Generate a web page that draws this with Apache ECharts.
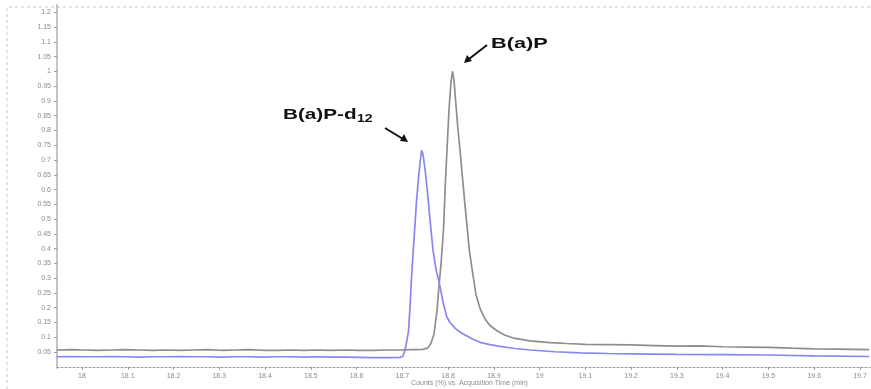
<!DOCTYPE html>
<html>
<head>
<meta charset="utf-8">
<script src="https://cdn.jsdelivr.net/npm/echarts@6/dist/echarts.min.js"></script>
<style>html,body{margin:0;padding:0;background:#fff}#c{width:871px;height:389px}</style>
</head>
<body>
<div id="c"></div>
<script>
// Tick labels
const xTicks = [18, 18.1, 18.2, 18.3, 18.4, 18.5, 18.6, 18.7, 18.8, 18.9, 19, 19.1, 19.2, 19.3, 19.4, 19.5, 19.6, 19.7];
const yTicks = [0.05, 0.1, 0.15, 0.2, 0.25, 0.3, 0.35, 0.4, 0.45, 0.5, 0.55, 0.6, 0.65, 0.7, 0.75, 0.8, 0.85, 0.9, 0.95, 1, 1.05, 1.1, 1.15, 1.2];

// B(a)P trace (grey)
const grayTime = [17.945, 17.975, 18.005, 18.035, 18.065, 18.095, 18.125, 18.155, 18.185, 18.215, 18.245, 18.275, 18.305, 18.335, 18.365, 18.395, 18.425, 18.455, 18.485, 18.515, 18.545, 18.575, 18.605, 18.635, 18.665, 18.695,
  18.72, 18.745, 18.756, 18.7626, 18.7691, 18.7757, 18.7807, 18.7844, 18.7899, 18.7943, 18.7976, 18.8019, 18.8063, 18.8096,
  18.8128, 18.8172, 18.8216, 18.826, 18.8303, 18.8369, 18.8463, 18.8544, 18.8609, 18.8697,
  18.8806, 18.8915, 18.9068, 18.9243, 18.9461, 18.9789, 19.0226,
  19.06, 19.1, 19.15, 19.2, 19.25, 19.3, 19.35, 19.4, 19.45, 19.5, 19.55, 19.6, 19.65, 19.72];
const grayCounts = [0.057, 0.058, 0.057, 0.056, 0.057, 0.058, 0.057, 0.056, 0.057, 0.056, 0.057, 0.058, 0.056, 0.057, 0.058, 0.056, 0.056, 0.057, 0.056, 0.057, 0.056, 0.057, 0.056, 0.056, 0.057, 0.057,
  0.058, 0.059, 0.064, 0.08, 0.11, 0.19, 0.284, 0.345, 0.463, 0.632, 0.734, 0.869, 0.964, 1.0,
  0.971, 0.886, 0.802, 0.734, 0.659, 0.548, 0.395, 0.31, 0.245, 0.198,
  0.162, 0.14, 0.122, 0.107, 0.096, 0.088, 0.082,
  0.079, 0.076, 0.075, 0.074, 0.072, 0.070, 0.071, 0.068, 0.067, 0.066, 0.063, 0.061, 0.060, 0.058];

// B(a)P-d12 trace (blue)
const blueTime = [17.945, 17.975, 18.005, 18.035, 18.065, 18.095, 18.125, 18.155, 18.185, 18.215, 18.245, 18.275, 18.305, 18.335, 18.365, 18.395, 18.425, 18.455, 18.485, 18.515, 18.545, 18.575, 18.605, 18.635, 18.665, 18.695,
  18.7014, 18.7058, 18.7101, 18.7134, 18.7167, 18.72, 18.7239, 18.7276, 18.7309, 18.7348,
  18.7386, 18.7423, 18.7451, 18.7495, 18.755, 18.7604, 18.767, 18.7735, 18.7807, 18.7888,
  18.7969, 18.8041, 18.815, 18.826, 18.8369, 18.8522, 18.8697, 18.8915, 18.9134, 18.9461,
  18.9789, 19.0335, 19.0882, 19.15, 19.2, 19.3, 19.4, 19.5, 19.6, 19.72];
const blueCounts = [0.034, 0.035, 0.034, 0.034, 0.035, 0.034, 0.033, 0.034, 0.034, 0.035, 0.034, 0.034, 0.033, 0.034, 0.034, 0.033, 0.034, 0.034, 0.033, 0.034, 0.033, 0.033, 0.032, 0.031, 0.031, 0.032,
  0.036, 0.057, 0.09, 0.12, 0.2, 0.3, 0.395, 0.48, 0.56, 0.63,
  0.69, 0.733, 0.72, 0.67, 0.59, 0.5, 0.395, 0.33, 0.284, 0.22,
  0.17, 0.15, 0.131, 0.118, 0.108, 0.095, 0.083, 0.075, 0.069, 0.062,
  0.057, 0.051, 0.047, 0.045, 0.044, 0.042, 0.041, 0.040, 0.037, 0.035];

const fmt = v => String(Math.round(v * 100) / 100);
const labelStyle = { color: '#8a8a8a', fontSize: 7, fontFamily: 'Liberation Sans, Arial, sans-serif' };

const chart = echarts.init(document.getElementById('c'), null, { renderer: 'canvas' });
chart.setOption({
  animation: false,
  backgroundColor: '#ffffff',
  grid: { left: 57, right: 1, top: 5, bottom: 21, containLabel: false, outerBoundsMode: 'none' },
  xAxis: {
    type: 'value', min: 17.9454, max: 19.7219,
    name: 'Counts (%) vs. Acquisition Time (min)',
    nameLocation: 'middle', nameGap: 12, nameMoveOverlap: false,
    nameTextStyle: { color: '#8a8a8a', fontSize: 7, fontFamily: 'Liberation Sans, Arial, sans-serif', padding: [0, 0, 0, 12] },
    axisLine: { show: true, lineStyle: { color: '#9a9a9a', width: 1, type: [2, 2] } },
    axisTick: { show: true, length: 3, customValues: xTicks, lineStyle: { color: '#9a9a9a' } },
    axisLabel: Object.assign({ customValues: xTicks, formatter: fmt, margin: 5 }, labelStyle),
    splitLine: { show: false }
  },
  yAxis: {
    type: 'value', min: -0.004, max: 1.2248,
    axisLine: { show: true, lineStyle: { color: '#c4c4c4', width: 2 } },
    axisTick: { show: true, length: 3, customValues: yTicks, lineStyle: { color: '#9a9a9a' } },
    axisLabel: Object.assign({ customValues: yTicks, formatter: fmt, margin: 6 }, labelStyle),
    splitLine: { show: false }
  },
  series: [
    {
      type: 'line', name: 'B(a)P', showSymbol: false, symbol: 'none',
      lineStyle: { color: '#8e8e8e', width: 1.7 },
      data: grayTime.map((t, i) => [t, grayCounts[i]]),
      z: 2
    },
    {
      type: 'line', name: 'B(a)P-d12', showSymbol: false, symbol: 'none',
      lineStyle: { color: '#8787f2', width: 1.7 },
      data: blueTime.map((t, i) => [t, blueCounts[i]]),
      z: 3
    }
  ],
  graphic: [
    { type: 'polyline', shape: { points: [[7, 389], [7, 7], [870, 7]] }, style: { stroke: '#c8c8c8', lineWidth: 1, lineDash: [3, 3], fill: null }, silent: true },
    { type: 'text', x: 491, y: 44, scaleX: 1.45, style: { text: 'B(a)P', font: 'bold 15px "Liberation Sans", Arial, sans-serif', fill: '#111', textVerticalAlign: 'middle' } },
    { type: 'text', x: 283, y: 115, scaleX: 1.38, style: { text: 'B(a)P-d', font: 'bold 15px "Liberation Sans", Arial, sans-serif', fill: '#111', textVerticalAlign: 'middle' } },
    { type: 'text', x: 357, y: 119.5, scaleX: 1.4, style: { text: '12', font: 'bold 10px "Liberation Sans", Arial, sans-serif', fill: '#111', textVerticalAlign: 'middle' } },
    { type: 'line', shape: { x1: 487, y1: 45, x2: 469, y2: 59 }, style: { stroke: '#111', lineWidth: 2 } },
    { type: 'polygon', shape: { points: [[464, 63], [467, 55], [472, 61]] }, style: { fill: '#111' } },
    { type: 'line', shape: { x1: 385, y1: 128, x2: 403, y2: 139 }, style: { stroke: '#111', lineWidth: 2 } },
    { type: 'polygon', shape: { points: [[408, 142], [400, 141], [404, 134]] }, style: { fill: '#111' } }
  ]
});
</script>
</body>
</html>
